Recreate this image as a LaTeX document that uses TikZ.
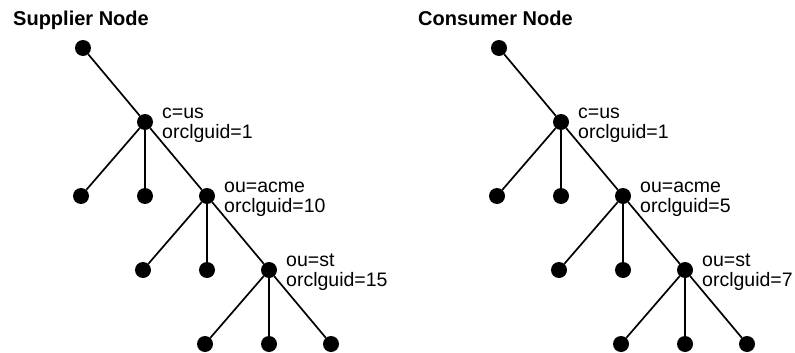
\documentclass[tikz,border=0pt]{standalone}
\usepackage{fontspec}
\setmainfont{Liberation Sans}
\usetikzlibrary{positioning}

\begin{document}
\begin{tikzpicture}[
    x=1pt, y=-1pt,
    on grid,
    node distance=74pt and 62pt,
    dot/.style={circle, fill=black, inner sep=0pt, minimum size=16pt},
    entry/.style={inner sep=0pt, align=left, anchor=base west, font=\fontsize{19.5}{20}\selectfont},
    heading/.style={inner sep=0pt, anchor=base west, font=\fontsize{20}{24}\selectfont\bfseries},
    branch/.style={line width=1.7pt}
]
\useasboundingbox (0,0) rectangle (795,353);

% Supplier tree
\node[heading] (suptitle) at (13,26) {Supplier Node};
\node[dot] (sroot) at (83,48) {};
\node[dot, below right=of sroot] (sus) {};
\node[dot, below left=74pt and 64pt of sus] (sa1) {};
\node[dot, below=of sus] (sa2) {};
\node[dot, below right=of sus] (sacme) {};
\node[dot, below left=74pt and 64pt of sacme] (sb1) {};
\node[dot, below=of sacme] (sb2) {};
\node[dot, below right=of sacme] (sst) {};
\node[dot, below left=74pt and 64pt of sst] (sc1) {};
\node[dot, below=of sst] (sc2) {};
\node[dot, below right=of sst] (sc3) {};

\node[entry, below right=16pt and 17pt of sus, anchor=base west] (suslbl) {c=us\\orclguid=1};
\node[entry, below right=16pt and 17pt of sacme, anchor=base west] (sacmelbl) {ou=acme\\orclguid=10};
\node[entry, below right=16pt and 17pt of sst, anchor=base west] (sstlbl) {ou=st\\orclguid=15};

\draw[branch] (sroot) -- (sus);
\draw[branch] (sus) -- (sa1);
\draw[branch] (sus) -- (sa2);
\draw[branch] (sus) -- (sacme);
\draw[branch] (sacme) -- (sb1);
\draw[branch] (sacme) -- (sb2);
\draw[branch] (sacme) -- (sst);
\draw[branch] (sst) -- (sc1);
\draw[branch] (sst) -- (sc2);
\draw[branch] (sst) -- (sc3);

% Consumer tree
\node[heading] (contitle) at (418,26) {Consumer Node};
\node[dot] (croot) at (499,48) {};
\node[dot, below right=of croot] (cus) {};
\node[dot, below left=74pt and 64pt of cus] (ca1) {};
\node[dot, below=of cus] (ca2) {};
\node[dot, below right=of cus] (cacme) {};
\node[dot, below left=74pt and 64pt of cacme] (cb1) {};
\node[dot, below=of cacme] (cb2) {};
\node[dot, below right=of cacme] (cst) {};
\node[dot, below left=74pt and 64pt of cst] (cc1) {};
\node[dot, below=of cst] (cc2) {};
\node[dot, below right=of cst] (cc3) {};

\node[entry, below right=16pt and 17pt of cus, anchor=base west] (cuslbl) {c=us\\orclguid=1};
\node[entry, below right=16pt and 17pt of cacme, anchor=base west] (cacmelbl) {ou=acme\\orclguid=5};
\node[entry, below right=16pt and 17pt of cst, anchor=base west] (cstlbl) {ou=st\\orclguid=7};

\draw[branch] (croot) -- (cus);
\draw[branch] (cus) -- (ca1);
\draw[branch] (cus) -- (ca2);
\draw[branch] (cus) -- (cacme);
\draw[branch] (cacme) -- (cb1);
\draw[branch] (cacme) -- (cb2);
\draw[branch] (cacme) -- (cst);
\draw[branch] (cst) -- (cc1);
\draw[branch] (cst) -- (cc2);
\draw[branch] (cst) -- (cc3);

\end{tikzpicture}
\end{document}
